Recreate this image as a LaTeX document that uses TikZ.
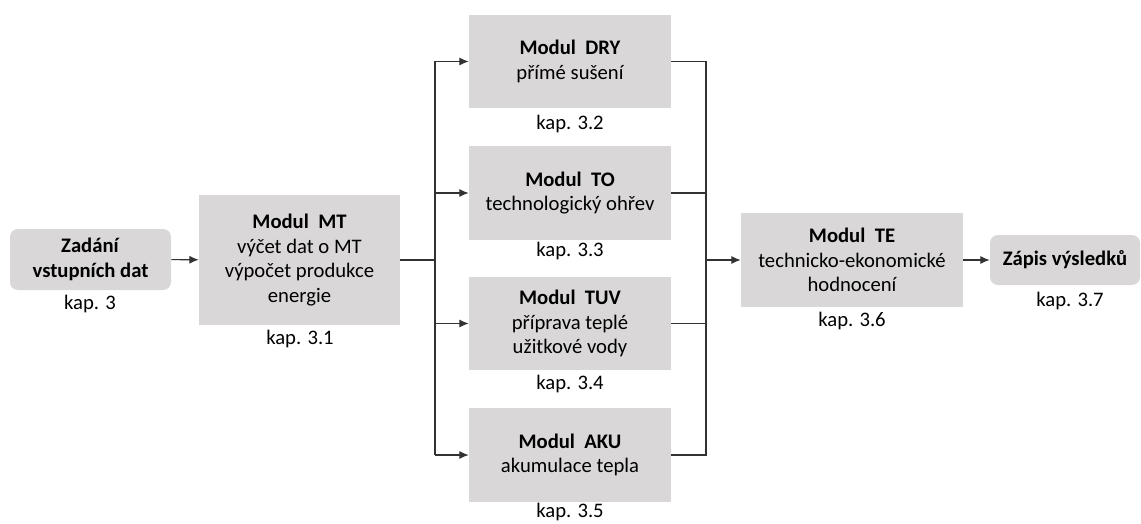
\documentclass[tikz,border=0pt]{standalone}
\usepackage{fontspec}
\setmainfont{Carlito}
\usetikzlibrary{arrows.meta}
\definecolor{boxgray}{RGB}{217,215,215}
\definecolor{linegray}{RGB}{50,50,50}
\tikzset{
  modbox/.style={fill=boxgray, align=center, inner sep=0pt, font=\fontsize{15.5}{18.5}\selectfont},
  endbox/.style={modbox, rounded corners=6pt},
  kaptxt/.style={font=\fontsize{15.5}{18}\selectfont, inner sep=0pt},
  link/.style={draw=linegray, line width=0.8pt},
  arr/.style={link, -{Latex[length=7pt,width=6pt]}}
}
\begin{document}
\begin{tikzpicture}[x=0.75pt,y=0.75pt]
\useasboundingbox (0,0) rectangle (1141,-524);
\node[endbox, minimum width=120.75pt, minimum height=45.75pt] (inp) at (90.5,-259.5){\textbf{Zadání}\\\textbf{vstupních dat}};
\node[kaptxt] (inpk) at (90,-304){kap. 3};
\node[modbox, minimum width=150.75pt, minimum height=97.5pt] (mt) at (299.5,-260){\textbf{Modul\ \ MT}\\výčet dat o MT\\výpočet produkce\\energie};
\node[kaptxt] (mtk) at (300,-339){kap. 3.1};

\node[modbox, minimum width=151.5pt, minimum height=69.75pt] (dry) at (570,-61.5){\textbf{Modul\ \ DRY}\\přímé sušení};
\node[kaptxt] (dryk) at (570,-124){kap. 3.2};
\node[modbox, minimum width=151.5pt, minimum height=70.5pt] (to) at (570,-193){\textbf{Modul\ \ TO}\\technologický ohřev};
\node[kaptxt] (tok) at (570,-251){kap. 3.3};
\node[modbox, minimum width=151.5pt, minimum height=69.75pt] (tuv) at (570,-323.5){\textbf{Modul\ \ TUV}\\příprava teplé\\užitkové vody};
\node[kaptxt] (tuvk) at (570,-384){kap. 3.4};
\node[modbox, minimum width=151.5pt, minimum height=70.5pt] (aku) at (570,-455){\textbf{Modul\ \ AKU}\\akumulace tepla};
\node[kaptxt] (akuk) at (570,-512){kap. 3.5};

\node[modbox, minimum width=166.5pt, minimum height=70.5pt] (te) at (852,-260){\textbf{Modul\ \ TE}\\technicko-ekonomické\\hodnocení};
\node[kaptxt] (tek) at (852,-321){kap. 3.6};
\node[endbox, minimum width=112.5pt, minimum height=37.5pt] (out) at (1065,-260){\textbf{Zápis výsledků}};
\node[kaptxt] (outk) at (1070,-301){kap. 3.7};

\coordinate (sl) at (435,-260);
\coordinate (sr) at (706,-260);
\draw[arr] (inp) -- (mt);
\draw[link] (mt) -- (sl);
\draw[link] (sl |- dry) -- (sl |- aku);
\draw[arr] (sl |- dry) -- (dry);
\draw[arr] (sl |- to) -- (to);
\draw[arr] (sl |- tuv) -- (tuv);
\draw[arr] (sl |- aku) -- (aku);
\draw[link] (dry) -- (sr |- dry) -- (sr |- aku) -- (aku);
\draw[link] (to) -- (sr |- to);
\draw[link] (tuv) -- (sr |- tuv);
\draw[arr] (sr) -- (te);
\draw[arr] (te) -- (out);

\end{tikzpicture}
\end{document}
